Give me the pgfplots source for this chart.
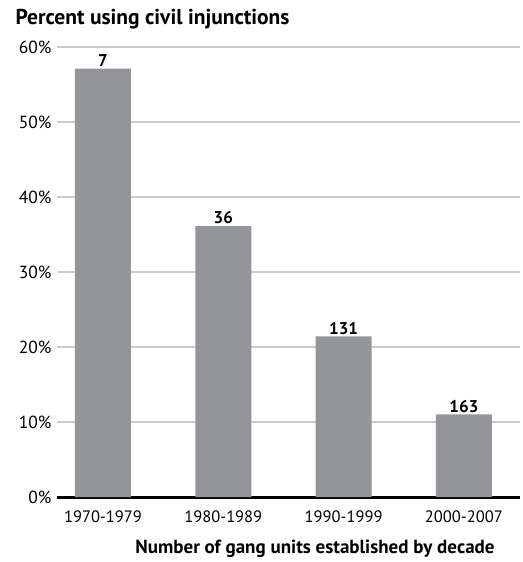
\documentclass[border=0pt]{standalone}
\usepackage{pgfplots}
\pgfplotsset{compat=1.18}
\usepackage{fontspec}
\setmainfont{PT Sans}
\definecolor{barg}{HTML}{939598}
\definecolor{gridg}{HTML}{CBCBCB}
\begin{document}
\begin{tikzpicture}[x=1pt,y=1pt]
  \path[use as bounding box] (0,0) rectangle (522,562);
  \begin{axis}[
      at={(57pt,65pt)}, anchor=south west,
      scale only axis, width=463pt, height=450pt,
      xmin=-0.382, xmax=3.466,
      ymin=0, ymax=60,
      ytick={0,10,...,60},
      yticklabel={\pgfmathprintnumber{\tick}\%},
      xtick={0,1,2,3},
      xticklabels={1970-1979,1980-1989,1990-1999,2000-2007},
      axis lines*=left,
      y axis line style={draw=none},
      x axis line style={black, line width=3pt},
      tick style={draw=none},
      ymajorgrids, grid style={gridg, line width=1.2pt},
      ticklabel style={font=\fontsize{16.5}{16.5}\selectfont},
      yticklabel style={font=\fontsize{17.5}{17.5}\selectfont, xshift=-2pt},
      xticklabel style={yshift=-10pt},
      /pgf/number format/assume math mode=true,
      clip=false,
    ]
    \addplot[ybar, bar width=56pt, fill=barg, draw=none,
      point meta=explicit symbolic,
      nodes near coords,
      every node near coord/.style={font=\bfseries\fontsize{17}{17}\selectfont, black, inner sep=2pt}]
      coordinates {(0,57.1) [7] (1,36.1) [36] (2,21.4) [131] (3,11.0) [163]};
  \end{axis}
  \node[anchor=west, font=\bfseries\fontsize{21.5}{21.5}\selectfont] at (12,543) {Percent using civil injunctions};
  \node[font=\bfseries\fontsize{19}{19}\selectfont] at (315,13) {Number of gang units established by decade};
\end{tikzpicture}
\end{document}
